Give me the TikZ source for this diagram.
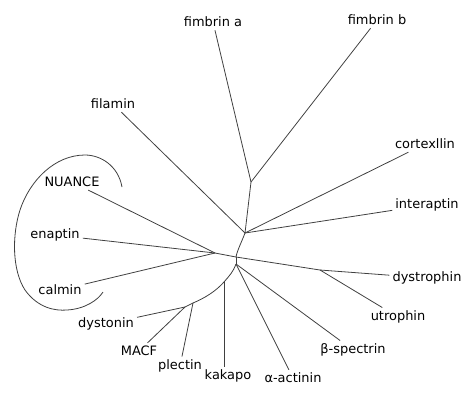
\documentclass[tikz,border=0pt]{standalone}
\usepackage{fontspec}
\setmainfont{DejaVu Sans}

\begin{document}
\begin{tikzpicture}[x=1bp, y=-1bp,
    taxon/.style={font=\fontsize{13}{15}\selectfont, inner sep=3bp, text=black},
    branch/.style={draw=black!75, line width=0.8bp},
    bracket/.style={draw=black!75, line width=0.8bp}]
\useasboundingbox (0,0) rectangle (472,394);

% Internal junctions
\coordinate (fimb) at (251,182);
\coordinate (core) at (245,233);
\coordinate (mid) at (236,257);
\coordinate (nuc) at (215,253);
\coordinate (low) at (236,264);
\coordinate (kak) at (224,282);
\coordinate (plec) at (193,303);
\coordinate (macf) at (185,307);
\coordinate (utro) at (320,270);

% Taxa, upper half
\node[taxon] (fimA) at (213,22) {fimbrin a};
\node[taxon] (fimB) at (377,20) {fimbrin b};
\node[taxon] (filamin) at (113,104) {filamin};
\node[taxon] (cortex) at (425,144) {cortexllin};
\node[taxon] (nuance) at (72,182) {NUANCE};
\node[taxon] (interap) at (427,205) {interaptin};
\node[taxon] (enaptin) at (55,235) {enaptin};

% Taxa, lower half
\node[taxon] (calmin) at (60,290) {calmin};
\node[taxon] (dystro) at (427,278) {dystrophin};
\node[taxon] (utrophin) at (398,317) {utrophin};
\node[taxon] (dyston) at (106,324) {dystonin};
\node[taxon] (MACF) at (139,351) {MACF};
\node[taxon] (bspec) at (353,350) {β-spectrin};
\node[taxon] (plectin) at (180,366) {plectin};
\node[taxon] (kakapo) at (228,376) {kakapo};
\node[taxon] (aact) at (293,378) {α-actinin};

% Branches
\draw[branch] (fimA) -- (fimb);
\draw[branch] (fimB) -- (fimb);
\draw[branch] (fimb) -- (core);
\draw[branch] (filamin) -- (core);
\draw[branch] (cortex) -- (core);
\draw[branch] (interap) -- (core);
\draw[branch] (core) .. controls +(-3,8) and +(1,-6) .. (mid);
\draw[branch] (nuance) -- (nuc);
\draw[branch] (calmin) -- (nuc);
\draw[branch] (enaptin) -- (nuc) -- (mid);
\draw[branch] (mid) -- (utro) -- (dystro);
\draw[branch] (utro) -- (utrophin);
\draw[branch] (mid) -- (low);
\draw[branch] (low) -- (bspec);
\draw[branch] (low) -- (aact);
\draw[branch] (low) .. controls +(-3,8) and +(6,-7) .. (kak)
    .. controls +(-8,9) and +(12,-5) .. (plec) -- (macf) -- (dyston);
\draw[branch] (kak) -- (kak |- kakapo.north);
\draw[branch] (plec) -- (plectin);
\draw[branch] (macf) -- (MACF);

% Bracket round the NUANCE group
\draw[bracket] (122,187) .. controls (118,165) and (100,155) .. (85,155)
    .. controls (55,155) and (30,180) .. (20,210)
    .. controls (12,235) and (12,270) .. (25,290)
    .. controls (38,308) and (55,311) .. (67,310)
    .. controls (85,309) and (98,300) .. (103,292);

\end{tikzpicture}
\end{document}
